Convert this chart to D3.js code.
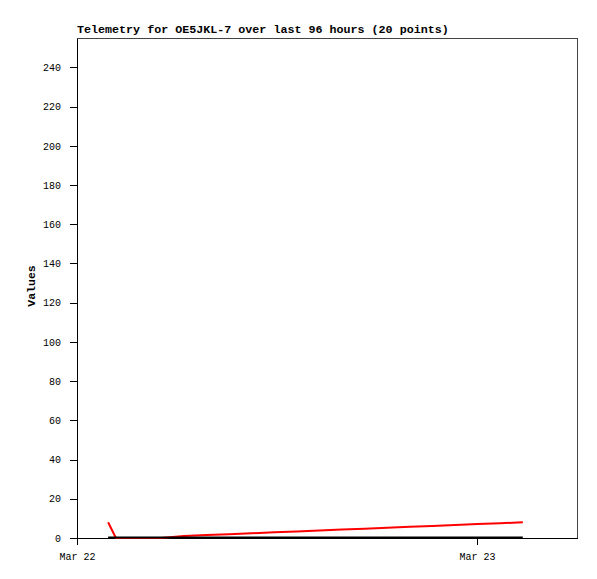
<!DOCTYPE html>
<html>
<head>
<meta charset="utf-8">
<script src="https://cdn.jsdelivr.net/npm/d3@7"></script>
<style>
  body { margin: 0; background: #fff; }
  svg { display: block; }
  text { font-family: "Liberation Mono", "DejaVu Sans Mono", monospace; fill: #000; }
</style>
</head>
<body>
<div id="chart"></div>
<script>
// telemetry samples (UTC)
var times = [
    "2024-03-22T01:52", "2024-03-22T02:20", "2024-03-22T03:42", "2024-03-22T05:03",
    "2024-03-22T06:25", "2024-03-22T07:46", "2024-03-22T09:07", "2024-03-22T10:29",
    "2024-03-22T11:50", "2024-03-22T13:11", "2024-03-22T14:32", "2024-03-22T15:54",
    "2024-03-22T17:16", "2024-03-22T18:37", "2024-03-22T19:58", "2024-03-22T21:19",
    "2024-03-22T22:41", "2024-03-23T00:02", "2024-03-23T01:23", "2024-03-23T02:45"
];
var redValues = [8, 0, 0, 0, 1.0, 1.5, 1.9, 2.4, 2.9, 3.3, 3.8, 4.3, 4.7, 5.2, 5.7, 6.1, 6.6, 7.1, 7.5, 8.0];
var blackValues = [0, 0, 0, 0, 0, 0, 0, 0, 0, 0, 0, 0, 0, 0, 0, 0, 0, 0, 0, 0];
var yTicks = [0, 20, 40, 60, 80, 100, 120, 140, 160, 180, 200, 220, 240];
var xTicks = ["2024-03-22T00:00", "2024-03-23T00:00"];
var xDomain = ["2024-03-22T00:00", "2024-03-23T06:00"];
var yDomain = [0, 255];
var title = "Telemetry for OE5JKL-7 over last 96 hours (20 points)";

var parseTime = d3.utcParse("%Y-%m-%dT%H:%M");

var width = 597, height = 579,
    margin = {top: 38, right: 20, bottom: 41, left: 77},
    plotW = width - margin.left - margin.right,
    plotH = height - margin.top - margin.bottom;

var svg = d3.select("#chart").append("svg")
    .attr("width", width)
    .attr("height", height);

var x = d3.scaleUtc().domain(xDomain.map(parseTime)).range([0, plotW]);
var y = d3.scaleLinear().domain(yDomain).range([plotH, 0]);

var g = svg.append("g").attr("transform", "translate(" + margin.left + "," + margin.top + ")");

// frame
g.append("rect")
    .attr("width", plotW).attr("height", plotH)
    .attr("fill", "none").attr("stroke", "#444").attr("stroke-width", 1)
    .attr("shape-rendering", "crispEdges");

// y axis
var yAxis = d3.axisLeft(y).tickValues(yTicks).tickSize(7).tickSizeOuter(0).tickPadding(9);
var yG = g.append("g").call(yAxis);
yG.select(".domain").attr("stroke", "#000").attr("shape-rendering", "crispEdges");
yG.selectAll(".tick line").attr("stroke", "#000").attr("shape-rendering", "crispEdges");
yG.selectAll("text").style("font-size", "10px");

// x axis
var xAxis = d3.axisBottom(x).tickValues(xTicks.map(parseTime))
    .tickFormat(d3.utcFormat("%b %d")).tickSize(7).tickSizeOuter(0).tickPadding(8);
var xG = g.append("g").attr("transform", "translate(0," + plotH + ")").call(xAxis);
xG.select(".domain").attr("stroke", "#000").attr("shape-rendering", "crispEdges");
xG.selectAll(".tick line").attr("stroke", "#000").attr("shape-rendering", "crispEdges");
xG.selectAll("text").style("font-size", "10px");

// series
var line = d3.line()
    .x(function(d){ return x(d.t); })
    .y(function(d){ return y(d.v); });

var redData = times.map(function(t, i){ return {t: parseTime(t), v: redValues[i]}; });
var blackData = times.map(function(t, i){ return {t: parseTime(t), v: blackValues[i]}; });

g.append("path").datum(redData)
    .attr("d", line).attr("fill", "none")
    .attr("stroke", "#ff0000").attr("stroke-width", 2);

g.append("path").datum(blackData)
    .attr("d", line).attr("fill", "none")
    .attr("stroke", "#000").attr("stroke-width", 2)
    .attr("transform", "translate(0,-0.5)");

// title
svg.append("text")
    .attr("x", margin.left).attr("y", 33)
    .style("font-size", "11.7px").style("font-weight", "bold")
    .text(title);

// y label
svg.append("text")
    .attr("transform", "translate(35," + (margin.top + plotH / 2 - 2) + ") rotate(-90)")
    .attr("text-anchor", "middle")
    .style("font-size", "11.5px").style("font-weight", "bold")
    .text("Values");
</script>
</body>
</html>
